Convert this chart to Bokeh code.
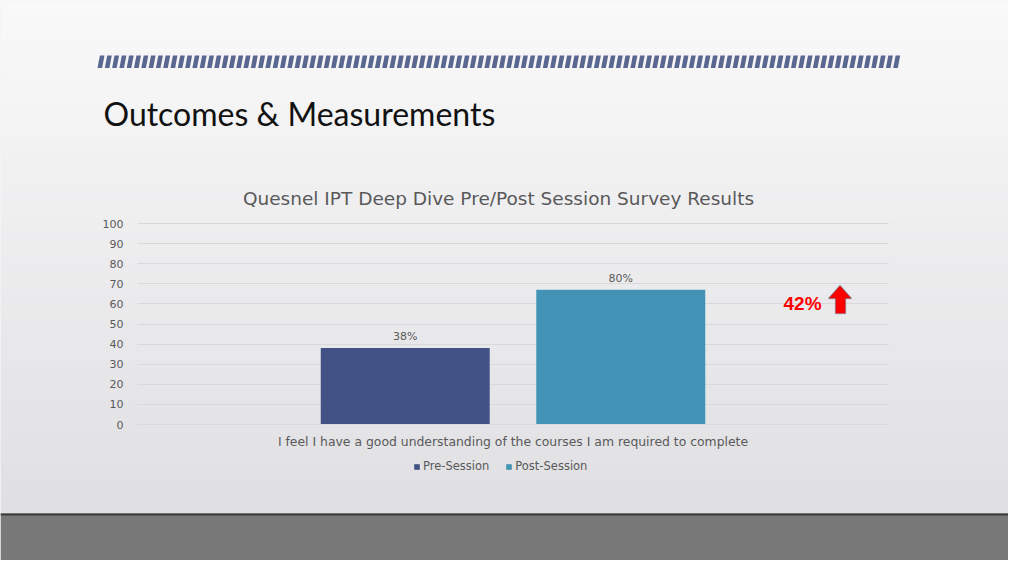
from bokeh.plotting import figure
from bokeh.models import (Range1d, Label, PolyAnnotation, ColumnDataSource,
                          Legend, LegendItem, LinearAxis, FixedTicker, Grid)
from bokeh.transform import dodge
from bokeh.core.properties import value
from bokeh.embed import file_html
from bokeh.resources import INLINE

# ---------------- data ----------------
slide_title = "Outcomes & Measurements"
chart_title = "Quesnel IPT Deep Dive Pre/Post Session Survey Results"
categories = ["I feel I have a good understanding of the courses I am required to complete"]
series = ["Pre-Session", "Post-Session"]
values = [38, 67]
value_labels = ["38%", "80%"]
y_ticks = [0, 10, 20, 30, 40, 50, 60, 70, 80, 90, 100]
change_label = "42%"

# ---------------- layout constants (pixels) ----------------
W, H = 1008, 560
PL, PR, PT, PB = 137, 888, 223, 424      # chart plot area
Y0, Y1 = 0, 100
colors = ["#425285", "#4393b6"]
offsets = [-0.1435, 0.1435]
bar_width = 0.225
CHART_FONT = "DejaVu Sans"
TXT = "#595959"

# chart ranges derived so that the plot area lands on PL..PR / PT..PB
xs_per_px = 1.0 / (PR - PL)
x_range = Range1d(-PL * xs_per_px, (W - PL) * xs_per_px)
ys_per_px = (Y1 - Y0) / (PB - PT)
y_range = Range1d(Y0 - (H - PB) * ys_per_px, Y1 + PT * ys_per_px)

p = figure(width=W, height=H, x_range=x_range, y_range=y_range,
           output_backend="svg", toolbar_location=None,
           x_axis_location=None, y_axis_location=None,
           min_border=0, min_border_left=0, min_border_right=0,
           min_border_top=0, min_border_bottom=0)
p.extra_x_ranges = {"px": Range1d(0, W)}
p.extra_y_ranges = {"py": Range1d(H, 0)}
p.grid.visible = False
p.outline_line_color = None
p.background_fill_color = "#ebebed"
p.border_fill_color = "#ebebed"


def hexc(c):
    return "#%02x%02x%02x" % c


def lerp(a, b, t):
    return tuple(int(round(a[k] + (b[k] - a[k]) * t)) for k in range(3))


# ---------------- background (decoration) ----------------
nb = 40
FLOOR = 513
c0, c1 = (249, 249, 249), (224, 224, 227)
bt = [FLOOR * i / nb for i in range(nb)]
bb = [FLOOR * (i + 1) / nb + 0.7 for i in range(nb)]
bc = [hexc(lerp(c0, c1, i / (nb - 1))) for i in range(nb)]
p.quad(left=0, right=W, top=bt, bottom=bb, fill_color=bc, line_color=None,
       x_range_name="px", y_range_name="py", level="image")
p.quad(left=0, right=W, top=FLOOR, bottom=H, fill_color="#787878",
       line_color=None, x_range_name="px", y_range_name="py", level="image")
p.quad(left=0, right=W, top=FLOOR, bottom=FLOOR + 2, fill_color="#3a3a3a",
       line_color=None, x_range_name="px", y_range_name="py", level="image")

period = 7.3
n_str = 110
sx = [[97 + i * period, 97 + i * period + 4.6, 97 + i * period + 7.0,
       97 + i * period + 2.4] for i in range(n_str)]
sy = [[67.5, 67.5, 55, 55] for _ in range(n_str)]
p.patches(xs=sx, ys=sy, fill_color="#5a6790", line_color=None,
          x_range_name="px", y_range_name="py", level="image")

p.add_layout(Label(x=103, y=113, x_units="canvas", y_units="canvas",
                   text=slide_title, text_font="Lato",
                   text_font_size="32px", text_color="#111111",
                   text_baseline="alphabetic"))
p.add_layout(Label(x=498, y=198, x_units="canvas", y_units="canvas",
                   text=chart_title, text_font=CHART_FONT,
                   text_font_size="18.5px", text_color=TXT,
                   text_align="center", text_baseline="middle"))

# ---------------- grid & axes ----------------
p.add_layout(Grid(dimension=1, ticker=FixedTicker(ticks=y_ticks),
                  cross_bounds=(0, 1), grid_line_color="#d9d9d9",
                  grid_line_width=1))

yax = LinearAxis(ticker=FixedTicker(ticks=y_ticks), fixed_location=0,
                 axis_line_color=None, major_tick_line_color=None,
                 minor_tick_line_color=None, major_label_standoff=8,
                 major_label_text_font=CHART_FONT,
                 major_label_text_font_size="11px",
                 major_label_text_color=TXT)
p.add_layout(yax, "left")

xax = LinearAxis(ticker=FixedTicker(ticks=[0.5]), fixed_location=0,
                 bounds=(0, 1), major_label_overrides={0.5: categories[0]},
                 axis_line_color="#d9d9d9", major_tick_line_color=None,
                 minor_tick_line_color=None, major_label_standoff=3,
                 major_label_text_font=CHART_FONT,
                 major_label_text_font_size="12.4px",
                 major_label_text_color=TXT)
p.add_layout(xax, "below")

# ---------------- bars ----------------
items = []
for i, s in enumerate(series):
    src = ColumnDataSource(dict(pos=[0.5], val=[values[i]],
                                lbl=[value_labels[i]]))
    xd = dodge("pos", offsets[i])
    r = p.vbar(x=xd, top="val", bottom=0, width=bar_width, source=src,
               fill_color=colors[i], line_color=None)
    items.append(LegendItem(label=s, renderers=[r]))
    p.text(x=xd, y="val", text="lbl", source=src, text_align="center",
           text_baseline="bottom", y_offset=-5, text_font=value(CHART_FONT),
           text_font_size="11px", text_color=TXT)

# change annotation
p.add_layout(Label(x=783, y=303, x_units="canvas", y_units="canvas",
                   text=change_label, text_font="Liberation Sans",
                   text_font_style="bold", text_font_size="19px",
                   text_color="#ff0000", text_baseline="middle"))
p.add_layout(PolyAnnotation(
    xs=[839.5, 851, 845, 845, 835, 835, 828],
    ys=[285, 298, 298, 313, 313, 298, 298],
    xs_units="canvas", ys_units="canvas",
    fill_color="#ff0000", fill_alpha=1, line_color="#2e3a63", line_width=1.5))

lg = Legend(items=items, orientation="horizontal", location=(413, 87),
            margin=0, padding=0, spacing=16, glyph_width=7, glyph_height=7,
            label_standoff=3, label_text_font=CHART_FONT,
            label_text_font_size="11.5px", label_text_color=TXT,
            background_fill_alpha=0, border_line_color=None)
p.add_layout(lg)

open("out.html", "w").write(file_html(p, INLINE))
